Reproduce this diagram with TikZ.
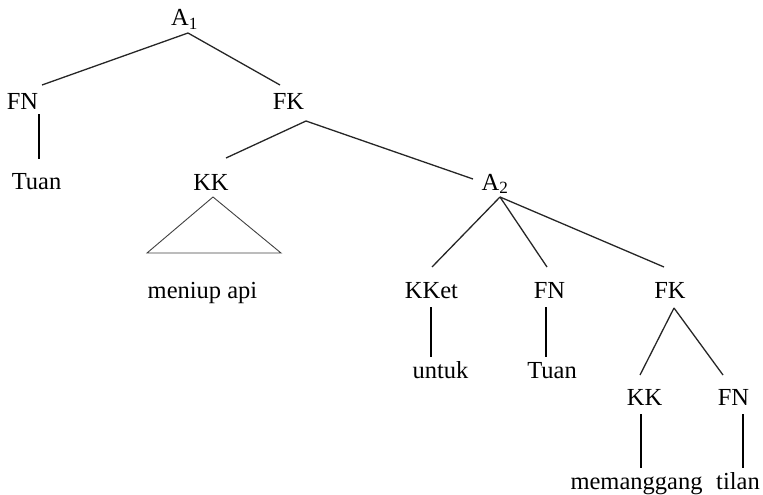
\documentclass[tikz,border=0pt]{standalone}
\usepackage{fontspec}
\setmainfont{Liberation Serif}
\usepackage{tikz}

\tikzset{
  cat/.style={anchor=base, inner sep=0pt, font=\fontsize{24.5}{29}\selectfont},
  branch/.style={line width=1.3pt, black!85},
  stem/.style={line width=2pt, black},
  roof/.style={line width=0.9pt, black!75}
}

\begin{document}
\begin{tikzpicture}[x=1pt, y=-1pt]
\useasboundingbox (0,0) rectangle (763,495);

  % Labels
  \node[cat] (A1) at (184.5,26) {A\textsubscript{1}};
  \node[cat] (fn1) at (22.5,110) {FN};
  \node[cat] (fk1) at (288.5,110) {FK};
  \node[cat] (tuan1) at (36.5,189) {Tuan};
  \node[cat] (kk1) at (211,190) {KK};
  \node[cat] (A2) at (495,190) {A\textsubscript{2}};
  \node[cat] (api) at (202.5,298) {meniup api};
  \node[cat] (kket) at (431.5,298) {KKet};
  \node[cat] (fn2) at (549.5,298) {FN};
  \node[cat] (fk2) at (670,298) {FK};
  \node[cat] (untuk) at (440.5,378) {untuk};
  \node[cat] (tuan2) at (552,378) {Tuan};
  \node[cat] (kk3) at (644.5,405) {KK};
  \node[cat] (fn3) at (733.5,405) {FN};
  \node[cat] (panggang) at (636.5,489) {memanggang};
  \node[cat] (tilan) at (738,489) {tilan};

  % Branches
  \draw[branch] ([shift={(3.5,7)}]A1.base) -- ([shift={(19.5,-25)}]fn1.base);
  \draw[branch] ([shift={(3.5,7)}]A1.base) -- ([shift={(-8.5,-25)}]fk1.base);
  \draw[branch] ([shift={(17.5,11)}]fk1.base) -- ([shift={(15,-32)}]kk1.base);
  \draw[branch] ([shift={(17.5,11)}]fk1.base) -- ([shift={(-22,-11)}]A2.base);
  \draw[branch] ([shift={(5,7)}]A2.base) -- ([shift={(0.5,-31)}]kket.base);
  \draw[branch] ([shift={(5,7)}]A2.base) -- ([shift={(-2.5,-31)}]fn2.base);
  \draw[branch] ([shift={(5,7)}]A2.base) -- ([shift={(-6,-31)}]fk2.base);
  \draw[branch] ([shift={(4,10)}]fk2.base) -- ([shift={(-4.5,-30)}]kk3.base);
  \draw[branch] ([shift={(4,10)}]fk2.base) -- ([shift={(-10.5,-30)}]fn3.base);

  % Roof
  \draw[roof] ([shift={(2,7)}]kk1.base) -- ([shift={(-64,63)}]kk1.base)
    -- ([shift={(70,63)}]kk1.base) -- cycle;

  % Stems
  \draw[stem] ([shift={(16.5,4)}]fn1.base) -- ([shift={(2.5,-30)}]tuan1.base);
  \foreach \top/\bot/\dx/\ddx in {kket/untuk/-0.5/-9.5, fn2/tuan2/-3.5/-6,
      kk3/panggang/-3.5/4.5, fn3/tilan/9.5/5} {%
    \draw[stem] ([shift={(\dx,9)}]\top.base) -- ([shift={(\ddx,-21)}]\bot.base);
  }
\end{tikzpicture}
\end{document}
